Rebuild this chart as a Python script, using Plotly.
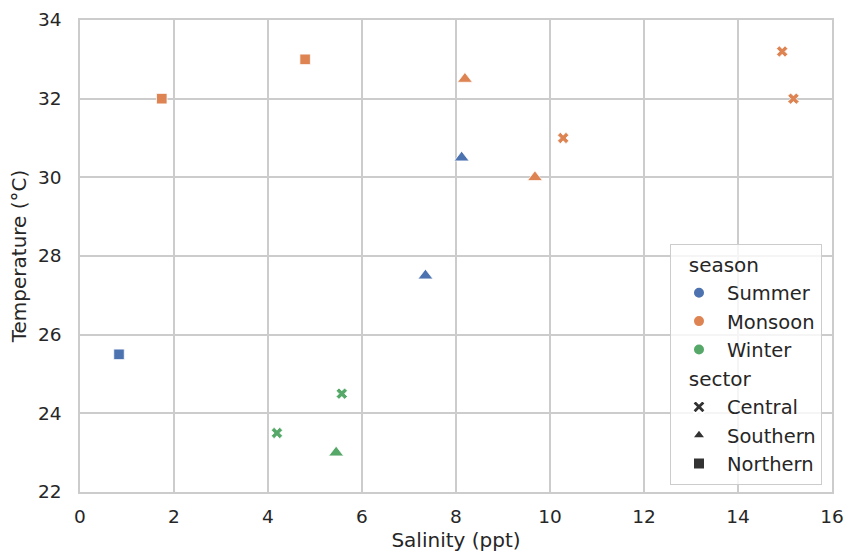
import plotly.graph_objects as go

# Data
salinity = [0.83, 7.35, 8.12, 1.74, 4.79, 8.19, 9.68, 10.28, 14.94, 15.18, 4.19, 5.57, 5.45]
temperature = [25.5, 27.5, 30.5, 32.0, 33.0, 32.5, 30.0, 31.0, 33.2, 32.0, 23.5, 24.5, 23.0]
season = ["Summer", "Summer", "Summer", "Monsoon", "Monsoon", "Monsoon", "Monsoon", "Monsoon",
          "Monsoon", "Monsoon", "Winter", "Winter", "Winter"]
sector = ["Northern", "Southern", "Southern", "Northern", "Northern", "Southern", "Southern", "Central",
          "Central", "Central", "Central", "Central", "Southern"]

seasons = ["Summer", "Monsoon", "Winter"]
sectors = ["Central", "Southern", "Northern"]
season_colors = {"Summer": "#4C72B0", "Monsoon": "#DD8452", "Winter": "#55A868"}
sector_symbols = {"Central": "x", "Southern": "triangle-up", "Northern": "square"}
sector_sizes = {"Central": 10, "Southern": 13, "Northern": 10.5}

FONT = "DejaVu Sans"
TXT = "#262626"
fig = go.Figure()

for s in seasons:
    for sec in sectors:
        xs = [x for x, a, b in zip(salinity, season, sector) if a == s and b == sec]
        ys = [y for y, a, b in zip(temperature, season, sector) if a == s and b == sec]
        if not xs:
            continue
        fig.add_trace(go.Scatter(
            x=xs, y=ys, mode="markers", showlegend=False,
            marker=dict(color=season_colors[s], symbol=sector_symbols[sec], size=sector_sizes[sec],
                        line=dict(color="white", width=0.75)),
            hovertemplate=f"{s}, {sec}<br>Salinity=%{{x}}<br>Temperature=%{{y}}<extra></extra>",
        ))

# Legend entries
for i, s in enumerate(seasons):
    fig.add_trace(go.Scatter(
        x=[None], y=[None], mode="markers", name=s, legendgroup="season",
        legendgrouptitle=dict(text="\u00a0\u00a0season", font=dict(size=20, family=FONT, color=TXT)) if i == 0 else None,
        marker=dict(color=season_colors[s], symbol="circle", size=11, line=dict(color="white", width=0.75)),
    ))
for i, sec in enumerate(sectors):
    fig.add_trace(go.Scatter(
        x=[None], y=[None], mode="markers", name=sec, legendgroup="sector",
        legendgrouptitle=dict(text="\u00a0\u00a0sector", font=dict(size=20, family=FONT, color=TXT)) if i == 0 else None,
        marker=dict(color="#333333", symbol=sector_symbols[sec], size=sector_sizes[sec],
                    line=dict(color="white", width=0.75)),
    ))

axis_common = dict(
    showgrid=True, gridcolor="#cccccc", gridwidth=1.5,
    showline=True, linecolor="#cccccc", linewidth=1.5, mirror=True,
    zeroline=False, ticks="", automargin=False,
    tickfont=dict(family=FONT, size=18.5, color=TXT),
    title_font=dict(family=FONT, size=20, color=TXT),
)

fig.update_layout(
    width=847, height=554,
    margin=dict(l=80, r=15, t=20, b=62),
    plot_bgcolor="white", paper_bgcolor="white",
    font=dict(family=FONT, color=TXT),
    xaxis=dict(range=[0, 16], dtick=2, title=dict(text="Salinity (ppt)", standoff=7),
               ticklabelstandoff=7, **axis_common),
    yaxis=dict(range=[22, 34], dtick=2, title=dict(text="Temperature (°C)", standoff=6),
               ticklabelstandoff=13, **axis_common),
    legend=dict(
        x=0.9867, y=0.0157, xanchor="right", yanchor="bottom",
        bgcolor="rgba(255,255,255,0.8)", bordercolor="#cccccc", borderwidth=1,
        font=dict(family=FONT, size=19.5, color=TXT),
        tracegroupgap=0, itemsizing="constant", itemwidth=46,
    ),
)

fig.write_html("out.html")
